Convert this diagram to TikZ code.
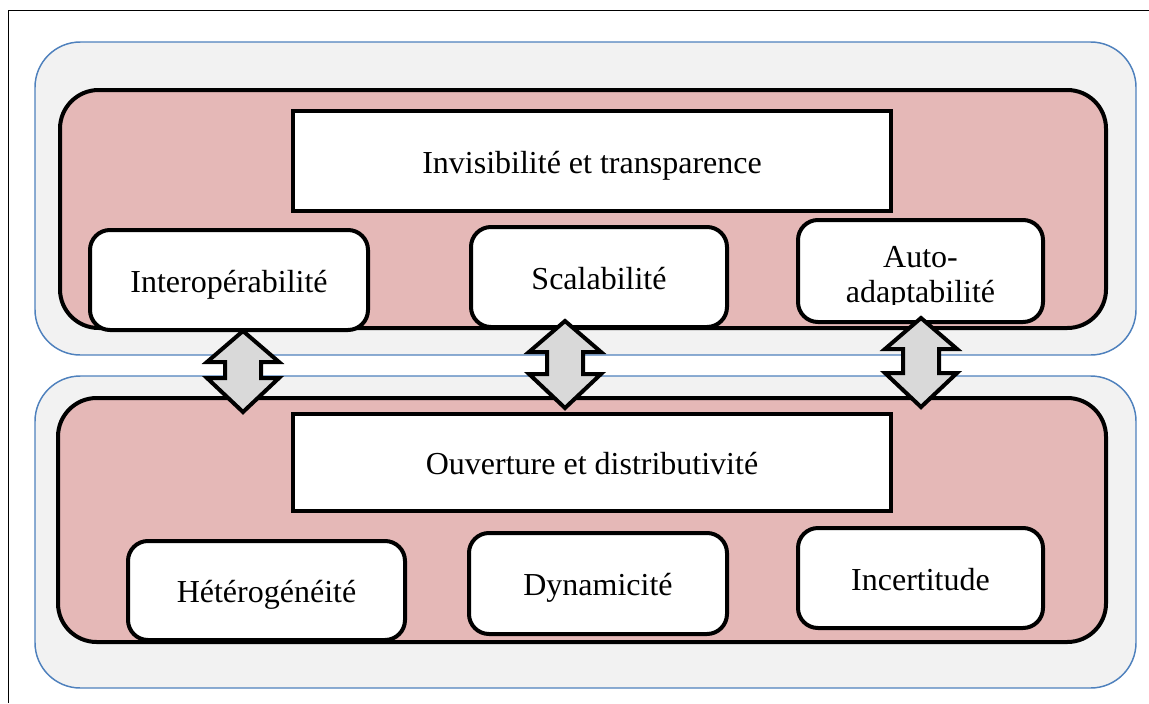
\documentclass[tikz,border=0pt]{standalone}
\usepackage{fontspec}
\setmainfont{Liberation Serif}
\definecolor{panelgray}{RGB}{242,242,242}
\definecolor{panelblue}{RGB}{79,129,189}
\definecolor{panelpink}{RGB}{229,184,183}
\definecolor{arrowgray}{RGB}{217,217,217}
\tikzset{every picture/.style={line width=0.75pt}}
\tikzset{
  outerpanel/.style={draw=panelblue, fill=panelgray, line width=1.1pt, rounded corners=34pt},
  innerpanel/.style={draw=black, fill=panelpink, line width=3pt, rounded corners=29pt},
  boxtext/.style={font=\fontsize{24}{26.25}\selectfont, inner sep=0pt},
  titlebox/.style={boxtext, text height=23.5pt, text depth=5pt, draw=black, fill=white, line width=3pt, minimum width=448.5pt},
  itembox/.style={boxtext, text height=23.5pt, text depth=5pt, draw=black, fill=white, line width=3pt, rounded corners=15pt},
  dblarrow/.style={draw=black, fill=arrowgray, line width=3pt, line join=miter}
}

\begin{document}
\begin{tikzpicture}[x=0.75pt,y=0.75pt,yscale=-1,xscale=1]
\useasboundingbox (0,0) rectangle (1149,703);

%Frame
\draw (8,703) -- (8,10) -- (1149,10);

%Shape: Rounded Rect [outer panels]
\draw [outerpanel] (35,42) rectangle (1136,355);
\draw [outerpanel] (35,376) rectangle (1136,688);
%Shape: Rounded Rect [inner panels]
\draw [innerpanel] (60,90) rectangle (1106,328);
\draw [innerpanel] (58,398) rectangle (1106,642);

% Title boxes
\node [titlebox, minimum height=75pt] (invis) at (592,161) {Invisibilité et transparence};
\node [titlebox, minimum height=72.75pt] (ouvert) at (592,462.5) {Ouverture et distributivité};

% Upper items
\node [itembox, minimum width=208.5pt, minimum height=75pt] (interop) at (229,280) {Interopérabilité};
\node [itembox, minimum width=192pt, minimum height=75pt] (scal) at (599,277) {Scalabilité};
\node [itembox, minimum width=183.75pt, minimum height=76.5pt] (auto) at (920.5,271) {};
\begin{scope}
\clip (798,220) rectangle (1043,304);
\node [boxtext, anchor=base] (autotop) at (920.5,267) {Auto-};
\node [boxtext, anchor=base] (autobot) at (920.5,302) {adaptabilité};
\end{scope}

% Lower items
\node [itembox, minimum width=207.75pt, minimum height=74.25pt] (hetero) at (266.5,590.5) {Hétérogénéité};
\node [itembox, minimum width=193.5pt, minimum height=75.75pt] (dyna) at (598,583.5) {Dynamicité};
\node [itembox, minimum width=183.75pt, minimum height=75pt] (incert) at (920.5,578) {Incertitude};

%Shape: Up Down Arrow
\foreach \cx/\ty/\by in {243/331/412, 565/321/408, 921/318/407}{
  \draw [dblarrow] (\cx,\ty) -- (\cx+36,\ty+31) -- (\cx+18,\ty+31) -- (\cx+18,\by-34)
    -- (\cx+36,\by-34) -- (\cx,\by) -- (\cx-36,\by-34) -- (\cx-18,\by-34)
    -- (\cx-18,\ty+31) -- (\cx-36,\ty+31) -- cycle ;
}

\end{tikzpicture}
\end{document}
